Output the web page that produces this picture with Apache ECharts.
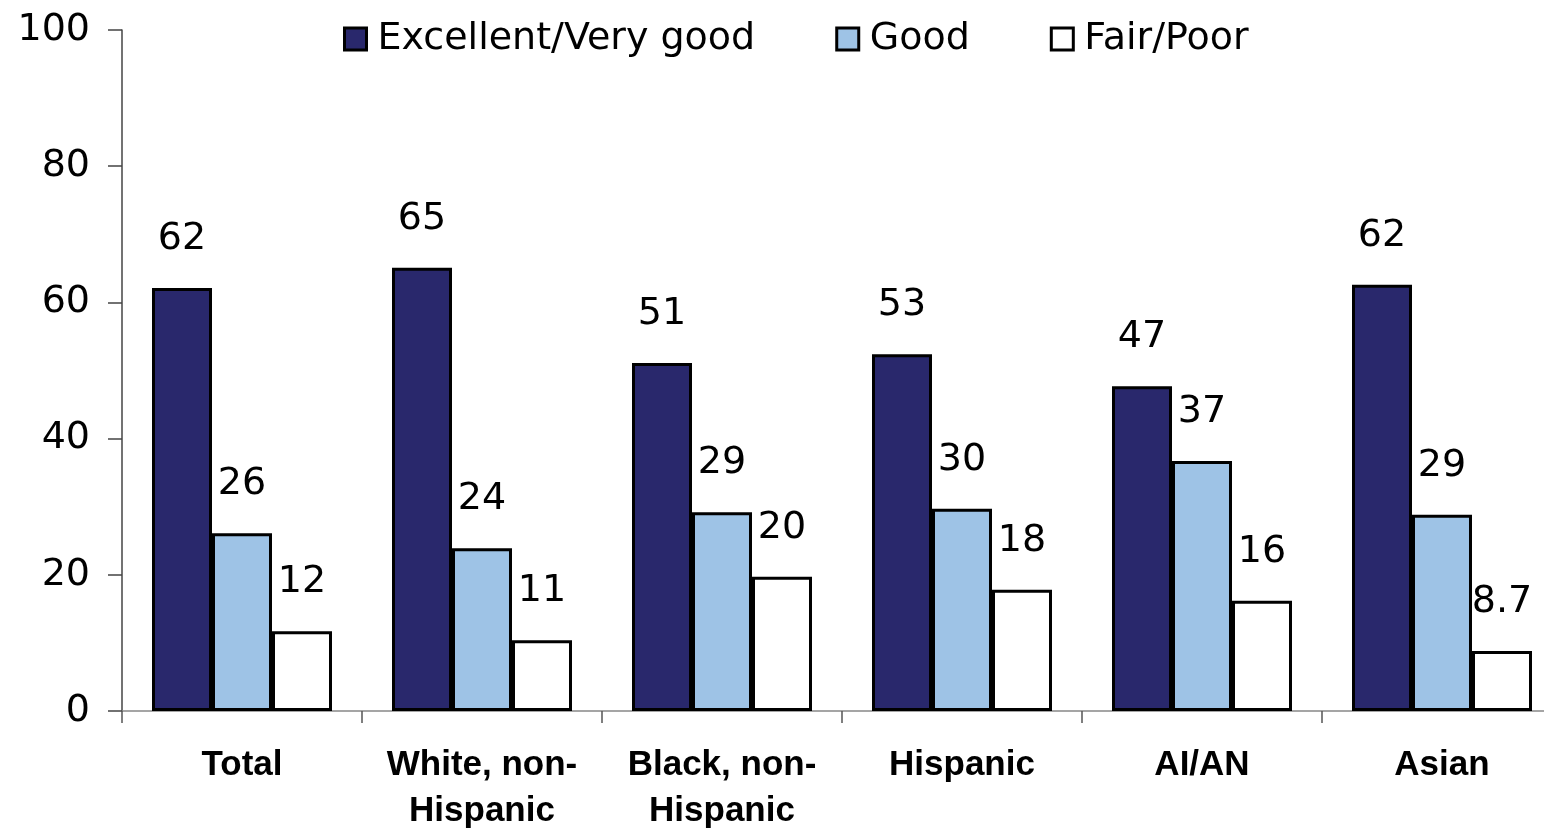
<!DOCTYPE html>
<html>
<head>
<meta charset="utf-8">
<script src="https://cdn.jsdelivr.net/npm/echarts@6/dist/echarts.min.js"></script>
<style>
html,body{margin:0;padding:0;background:#fff;}
#chart{width:1544px;height:831px;}
</style>
</head>
<body>
<div id="chart"></div>
<script>
const categories = ['Total', 'White, non-\nHispanic', 'Black, non-\nHispanic', 'Hispanic', 'AI/AN', 'Asian'];
const seriesNames = ['Excellent/Very good', 'Good', 'Fair/Poor'];
const excellentValues = [62.1, 65.1, 51.1, 52.4, 47.7, 62.6];
const goodValues = [26.1, 23.9, 29.2, 29.7, 36.7, 28.8];
const fairValues = [11.7, 10.4, 19.7, 17.8, 16.2, 8.8];
const excellentLabels = ['62', '65', '51', '53', '47', '62'];
const goodLabels = ['26', '24', '29', '30', '37', '29'];
const fairLabels = ['12', '11', '20', '18', '16', '8.7'];
const yTicks = [0, 20, 40, 60, 80, 100];

const colors = ['#29286c', '#9ec3e6', '#ffffff'];
const numFont = 'DejaVu Sans';

function mkSeries(name, values, labels, color) {
  return {
    name: name,
    type: 'bar',
    data: values,
    barGap: '0%',
    barCategoryGap: '25%',
    itemStyle: { color: color, borderColor: '#000', borderWidth: 3 },
    label: {
      show: true,
      position: 'top',
      distance: 30,
      color: '#000',
      fontFamily: numFont,
      fontSize: 38,
      formatter: p => labels[p.dataIndex]
    }
  };
}

const chart = echarts.init(document.getElementById('chart'));
chart.setOption({
  animation: false,
  backgroundColor: '#fff',
  legend: {
    left: 343,
    top: 20,
    padding: 0,
    itemWidth: 22,
    itemHeight: 22,
    itemGap: 80,
    icon: 'rect',
    itemStyle: { borderColor: '#000', borderWidth: 3 },
    textStyle: { fontFamily: numFont, fontSize: 38, color: '#000', lineHeight: 38, padding: [0, 0, 0, 6] },
    data: seriesNames
  },
  grid: { left: 122, width: 1440, top: 30, height: 681, containLabel: false, outerBoundsMode: 'none' },
  xAxis: {
    type: 'category',
    data: categories,
    axisLine: { lineStyle: { color: '#888', width: 1.5 } },
    axisTick: { show: true, length: 12, lineStyle: { color: '#555', width: 1.5 } },
    axisLabel: {
      interval: 0,
      margin: 31,
      fontFamily: 'Liberation Sans',
      fontWeight: 'bold',
      fontSize: 35,
      lineHeight: 46,
      color: '#000'
    },
    splitLine: { show: false }
  },
  yAxis: {
    type: 'value',
    min: yTicks[0],
    max: yTicks[yTicks.length - 1],
    interval: 20,
    axisLine: { show: true, lineStyle: { color: '#444', width: 1.5 } },
    axisTick: { show: true, length: 14, lineStyle: { color: '#444', width: 1.5 } },
    axisLabel: { margin: 32, fontFamily: numFont, fontSize: 38, color: '#000' },
    splitLine: { show: false }
  },
  series: [
    mkSeries(seriesNames[0], excellentValues, excellentLabels, colors[0]),
    mkSeries(seriesNames[1], goodValues, goodLabels, colors[1]),
    mkSeries(seriesNames[2], fairValues, fairLabels, colors[2])
  ]
});
</script>
</body>
</html>
